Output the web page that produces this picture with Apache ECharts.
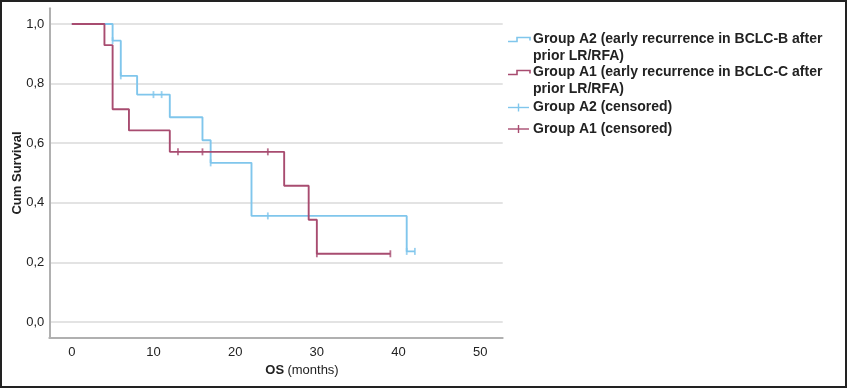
<!DOCTYPE html>
<html><head><meta charset="utf-8">
<script src="https://cdn.jsdelivr.net/npm/echarts@6/dist/echarts.min.js"></script>
<style>html,body{margin:0;padding:0;background:#fff}#c{width:847px;height:388px}</style></head>
<body><div id="c"></div><script>
// Kaplan-Meier steps
const a1Times=[0,4,5,7,12,26,29,30,39];
const a1Surv=[1,0.929,0.714,0.643,0.571,0.457,0.343,0.229,0.229];
const a2Times=[0,5,6,8,12,16,17,22,41,42];
const a2Surv=[1,0.944,0.826,0.763,0.687,0.610,0.534,0.356,0.237,0.237];
const a1CensTimes=[13,16,24,30,39];
const a1CensSurv=[0.571,0.571,0.571,0.229,0.229];
const a2CensTimes=[5,6,10,11,17,24,41,42];
const a2CensSurv=[0.944,0.826,0.763,0.763,0.534,0.356,0.237,0.237];
const xTicks=[0,10,20,30,40,50];
const yTicks=[0,0.2,0.4,0.6,0.8,1.0];
const legendNames=[
  ['Group A2 (early recurrence in BCLC-B after','prior LR/RFA)'],
  ['Group A1 (early recurrence in BCLC-C after','prior LR/RFA)'],
  ['Group A2 (censored)'],
  ['Group A1 (censored)']
];

const BLUE='#80c6ec', RED='#a84c70';
const zip=(t,s)=>t.map((v,i)=>[v,s[i]]);
const chart=echarts.init(document.getElementById('c'),null,{renderer:'canvas'});
const FONT='Liberation Sans, Arial, sans-serif';

function stepIcon(y,color){
  return {type:'polyline',shape:{points:[[508,y+2],[517,y+2],[517,y-2],[530,y-2],[530,y+1]]},
    style:{stroke:color,lineWidth:1.6,fill:null},silent:true};
}
function plusIcon(y,color){
  return [{type:'line',shape:{x1:508,y1:y,x2:529,y2:y},style:{stroke:color,lineWidth:1.4}},
          {type:'line',shape:{x1:518.5,y1:y-4,x2:518.5,y2:y+4},style:{stroke:color,lineWidth:1.4}}];
}
function txt(s,y){
  return {type:'text',style:{text:s,x:533,y:y,font:'bold 14px '+FONT,fill:'#222',textVerticalAlign:'middle'}};
}
const legendY=[[39.5,56],[72.5,89],[107.5],[129]];
const graphics=[
  {type:'rect',shape:{x:1,y:1,width:845,height:386},style:{fill:null,stroke:'#222',lineWidth:2},silent:true},
  stepIcon(legendY[0][0],BLUE), stepIcon(legendY[1][0],RED),
  ...plusIcon(legendY[2][0],BLUE), ...plusIcon(legendY[3][0],RED)
];
legendNames.forEach((lines,i)=>lines.forEach((s,j)=>graphics.push(txt(s,legendY[i][j]))));

const option={
  animation:false,
  grid:{left:49.3,right:344.3,top:8.3,bottom:50.3,containLabel:false,outerBoundsMode:'none'},
  xAxis:{type:'value',min:-2.75,max:52.75,
    name:'{b|OS} {n|(months)}',nameLocation:'middle',nameGap:26,nameMoveOverlap:false,
    nameTextStyle:{padding:[0,0,0,52],rich:{b:{fontWeight:'bold',fontSize:13,color:'#222',fontFamily:FONT},n:{fontSize:13,color:'#222',fontFamily:FONT}}},
    axisLine:{show:true,onZero:false,lineStyle:{color:'#b0b0b0',width:2}},
    axisTick:{show:false,customValues:xTicks},
    axisLabel:{customValues:xTicks,color:'#222',fontSize:13,fontFamily:FONT,margin:8},
    splitLine:{show:false}},
  yAxis:{type:'value',min:-0.0526,max:1.0526,
    name:'Cum Survival',nameLocation:'middle',nameGap:25,nameRotate:90,nameMoveOverlap:false,
    nameTextStyle:{fontWeight:'bold',fontSize:13,color:'#222',fontFamily:FONT},
    axisLine:{show:true,onZero:false,lineStyle:{color:'#b0b0b0',width:2}},
    axisTick:{show:false,customValues:yTicks},
    axisLabel:{customValues:yTicks,color:'#222',fontSize:13,fontFamily:FONT,margin:5,
      formatter:v=>v.toFixed(1).replace('.',',')},
    splitLine:{show:true,lineStyle:{color:'#dadada',width:1.5}}},
  graphic:graphics,
  series:[
    {name:legendNames[0].join(' '),type:'line',step:'end',data:zip(a2Times,a2Surv),showSymbol:false,
      lineStyle:{color:BLUE,width:1.9},itemStyle:{color:BLUE},z:3},
    {name:legendNames[1].join(' '),type:'line',step:'end',data:zip(a1Times,a1Surv),showSymbol:false,
      lineStyle:{color:RED,width:1.9},itemStyle:{color:RED},z:4},
    {name:legendNames[2][0],type:'scatter',data:zip(a2CensTimes,a2CensSurv),symbol:'rect',symbolSize:[1.8,7],
      itemStyle:{color:BLUE},z:5},
    {name:legendNames[3][0],type:'scatter',data:zip(a1CensTimes,a1CensSurv),symbol:'rect',symbolSize:[1.8,7],
      itemStyle:{color:RED},z:6}
  ]
};
chart.setOption(option);
</script></body></html>
